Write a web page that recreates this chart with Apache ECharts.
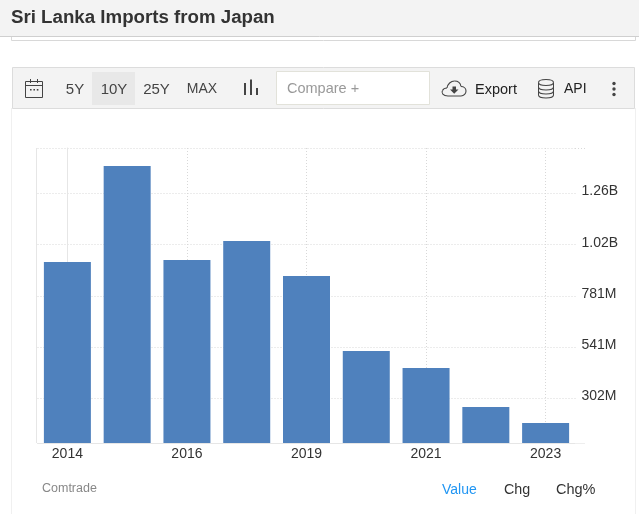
<!DOCTYPE html>
<html><head><meta charset="utf-8">
<style>html,body{margin:0;padding:0;background:#fff}#c{width:639px;height:514px}</style>
<script src="https://cdn.jsdelivr.net/npm/echarts@6/dist/echarts.min.js"></script>
</head><body><div id="c"></div>
<script>
const categories = ['2014','2015','2016','2018','2019','2020','2021','2022','2023'];
const values = [939e6,1388e6,949e6,1037e6,874e6,523e6,444e6,261e6,187e6];
const tickValues = [302e6,541e6,781e6,1020e6,1260e6];
const tickLabels = ['302M','541M','781M','1.02B','1.26B'];
const axisMin = 93e6, axisMax = 1472e6;
const labelledSlots = [0,2,4,6,8];
const rangeLabels = ['5Y','10Y','25Y','MAX'];
const FONT = '"Liberation Sans", Arial, sans-serif';
const ink = '#333', icon = '#444';
const txt = (x,y,text,size,fill,align) => ({type:'text',silent:true,style:{x,y,text,fontSize:size,fontFamily:FONT,fill,align:align||'center',verticalAlign:'middle'}});
const rect = (x,y,w,h,fill,stroke) => ({type:'rect',silent:true,shape:{x,y,width:w,height:h},style:{fill:fill||'none',stroke:stroke||'none',lineWidth:1}});
const line = (x1,y1,x2,y2,stroke,dash) => ({type:'line',silent:true,shape:{x1,y1,x2,y2},style:{stroke,lineWidth:1,lineDash:dash||null}});
const bez = (x1,y1,cpx1,cpy1,cpx2,cpy2,x2,y2) => ({type:'bezierCurve',silent:true,shape:{x1,y1,cpx1,cpy1,cpx2,cpy2,x2,y2},style:{fill:'none',stroke:icon,lineWidth:1.1}});
const dot = (cx,cy,r,fill) => ({type:'circle',silent:true,shape:{cx,cy,r},style:{fill}});
const rangeX = [75,114,156.5,202];
const rangeSize = [15,15,15,14];
const chrome = [
  rect(11.5,20,624,20.5,'#fff','#d8d8d8'),
  rect(0,0,639,36.5,'#f3f3f3'),
  line(0,36.5,639,36.5,'#cfcfcf'),
  line(11.5,108,11.5,514,'#f0f0f0'),
  line(635.5,108,635.5,514,'#f0f0f0'),
  rect(12.5,67.5,622,41,'#f3f3f3','#dcdcdc'),
  rect(92,72,43,33,'#e8e8e8'),
  rect(276.5,71.5,153,33,'#fff','#e2e2da'),
  txt(287,88.5,'Compare +',14.5,'#999','left'),
  // calendar
  rect(25.5,81.5,17,16,'none',icon),
  line(25.5,85.5,42.5,85.5,icon),
  line(30.5,79,30.5,83,icon), line(37.5,79,37.5,83,icon),
  rect(30,89,1.6,1.6,icon), rect(33.4,89,1.6,1.6,icon), rect(36.8,89,1.6,1.6,icon),
  // bars
  rect(244,83,2,12,icon), rect(250,79.5,2,15.5,icon), rect(256,88,2,7,icon),
  // cloud
  bez(448,96, 443,96, 441,93, 442.5,90.5),
  bez(442.5,90.5, 443.5,88.5, 445.5,88, 447,88),
  bez(447,88, 447.5,84, 451,81, 454.5,81),
  bez(454.5,81, 458,81, 460.5,83.5, 461,86.5),
  bez(461,86.5, 464,86.5, 466,88.5, 466,91),
  bez(466,91, 466,93.5, 464,96, 461,96),
  line(448,96,461,96,icon),
  {type:'polygon',silent:true,shape:{points:[[452.5,86.5],[456,86.5],[456,89.5],[458.5,89.5],[454.2,93.8],[450,89.5],[452.5,89.5]]},style:{fill:icon}},
  txt(475,89.5,'Export',14.5,'#222','left'),
  // database
  bez(538.5,82.5, 538.5,78.5, 553.5,78.5, 553.5,82.5),
  bez(538.5,82.5, 538.5,86.5, 553.5,86.5, 553.5,82.5),
  line(538.5,82.5,538.5,95,icon), line(553.5,82.5,553.5,95,icon),
  bez(538.5,95, 538.5,99, 553.5,99, 553.5,95),
  bez(538.5,87, 538.5,91, 553.5,91, 553.5,87),
  bez(538.5,91, 538.5,95, 553.5,95, 553.5,91),
  txt(564,89.5,'API',14,'#222','left'),
  dot(614,83.5,1.7,icon), dot(614,89,1.7,icon), dot(614,94.5,1.7,icon),
  // axis frame extras
  line(36.5,148,36.5,443,'#e6e6e6'),
  line(575,148.5,585,148.5,'#d8d8d8',[1,2]),
  line(575,443.5,585,443.5,'#eeeeee'),
  // footer
  txt(42,488.5,'Comtrade',12.5,'#888','left'),
  txt(442,490,'Value',14,'#2196f3','left'),
  txt(504,490,'Chg',14.3,ink,'left'),
  txt(556,490,'Chg%',14.5,ink,'left')
];
rangeLabels.forEach((t,i)=>chrome.push(txt(rangeX[i],89.5,t,rangeSize[i],'#444')));
const grid = {color:'#d8d8d8',type:[1,2],width:1};
const chart = echarts.init(document.getElementById('c'),null,{renderer:'canvas'});
chart.setOption({
  animation:false,
  backgroundColor:'#fff',
  title:{text:'Sri Lanka Imports from Japan',left:11,top:8,padding:0,textStyle:{fontSize:18.7,fontWeight:'bold',color:ink,fontFamily:FONT}},
  grid:{left:37.5,right:63.5,top:148,bottom:71,containLabel:false},
  xAxis:[{type:'category',data:categories,
    axisLine:{show:true,lineStyle:{color:'#e6e6e6'}},
    axisTick:{show:false},
    axisLabel:{interval:1,margin:4,fontSize:14,color:ink,fontFamily:FONT},
    splitLine:{show:false}},
   {type:'value',position:'top',min:-0.5,max:categories.length-0.5,
    axisLine:{show:false},
    axisTick:{show:false,customValues:labelledSlots},
    axisLabel:{show:false,customValues:labelledSlots},
    splitLine:{show:true,lineStyle:grid}}],
  yAxis:{type:'value',position:'right',min:axisMin,max:axisMax,
    axisLine:{show:true,lineStyle:{color:'#e6e6e6'}},
    axisTick:{show:false,customValues:tickValues.concat([axisMax])},
    axisLabel:{customValues:tickValues,margin:6,verticalAlign:'bottom',lineHeight:4,fontSize:14,color:ink,fontFamily:FONT,
      formatter:v=>tickLabels[tickValues.indexOf(v)]||''},
    splitLine:{show:true,lineStyle:grid}},
  series:[{type:'bar',xAxisIndex:0,data:values,barWidth:47,itemStyle:{color:'#4f81bd'},z:3}],
  graphic:{elements:chrome.map(e=>Object.assign({z:1},e))}
});
</script></body></html>
